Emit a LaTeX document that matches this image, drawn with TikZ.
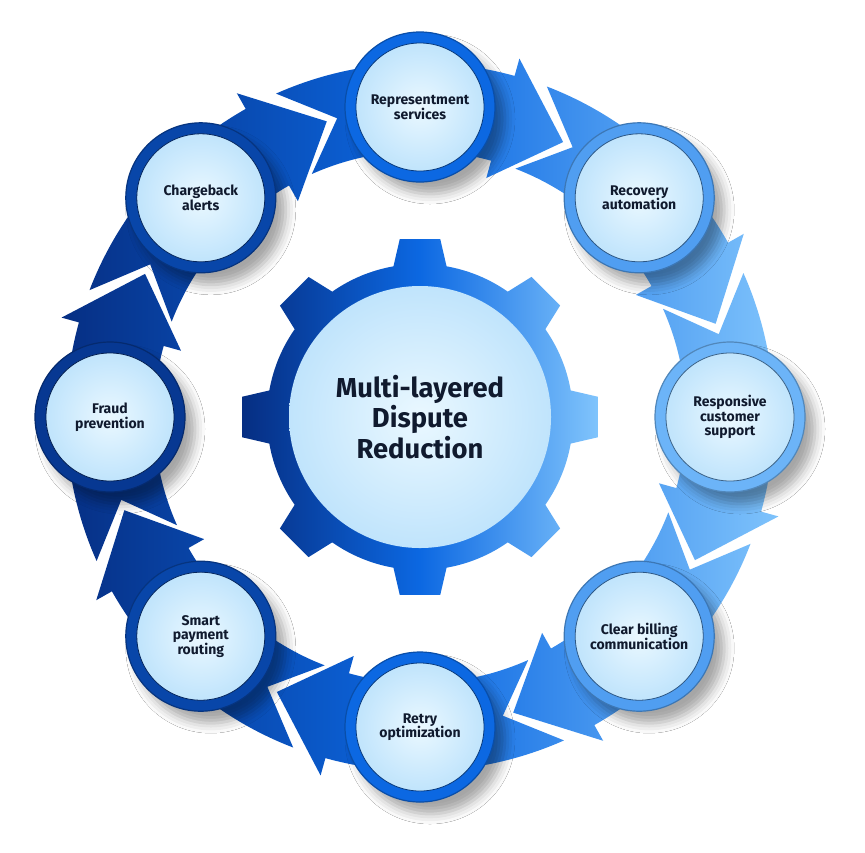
\documentclass[tikz,border=0pt]{standalone}
\usepackage{fontspec}
\setmainfont{Fira Sans}
\usepackage{tikz}
\usetikzlibrary{shadows.blur}

\definecolor{ringL}{RGB}{6,46,130}
\definecolor{ringM}{RGB}{12,104,226}
\definecolor{ringR}{RGB}{128,196,252}
\definecolor{discIn}{RGB}{234,248,255}
\definecolor{discOut}{RGB}{192,228,252}
\definecolor{labelInk}{RGB}{16,26,46}

\tikzset{
  ringshade/.style={left color=ringL, right color=ringR, middle color=ringM},
  stepring/.style={circle, minimum size=75pt, inner sep=0pt, fill=#1, draw=#1!75!black, line width=0.6pt,
    blur shadow={shadow xshift=5pt, shadow yshift=-6pt, shadow blur radius=5pt, shadow opacity=35}},
  stepdisc/.style={circle, minimum size=64pt, inner sep=0pt, inner color=discIn, outer color=discOut,
    draw=#1!55!black, line width=0.4pt, align=center, text=labelInk,
    font=\fontsize{7}{7.3}\selectfont\bfseries},
  hubdisc/.style={circle, minimum size=131pt, inner sep=0pt, inner color=discIn, outer color=discOut,
    align=center, text=labelInk, font=\fontsize{13.7}{13.6}\selectfont\bfseries},
}

\begin{document}
\begin{tikzpicture}[x=0.5pt,y=0.5pt,yscale=-1,xscale=1]
\fill[white] (0,0) rectangle (865,852);
\useasboundingbox (0,0) rectangle (865,852);

\begin{scope}[shift={(420,417)},yscale=-1]
% Ring of arrow segments
\path[ringshade]
  (114:354) arc[start angle=114, end angle=74.5, radius=354] -- (74.5:372) -- (62.5:310) -- (74.5:248) -- (74.5:266) arc[start angle=74.5, end angle=114, radius=266] -- (105.5:310) -- cycle
  (69:354) arc[start angle=69, end angle=29.5, radius=354] -- (29.5:372) -- (17.5:310) -- (29.5:248) -- (29.5:266) arc[start angle=29.5, end angle=69, radius=266] -- (60.5:310) -- cycle
  (24:354) arc[start angle=24, end angle=-15.5, radius=354] -- (-15.5:372) -- (-27.5:310) -- (-15.5:248) -- (-15.5:266) arc[start angle=-15.5, end angle=24, radius=266] -- (15.5:310) -- cycle
  (-21:354) arc[start angle=-21, end angle=-60.5, radius=354] -- (-60.5:372) -- (-72.5:310) -- (-60.5:248) -- (-60.5:266) arc[start angle=-60.5, end angle=-21, radius=266] -- (-29.5:310) -- cycle
  (-66:354) arc[start angle=-66, end angle=-105.5, radius=354] -- (-105.5:372) -- (-117.5:310) -- (-105.5:248) -- (-105.5:266) arc[start angle=-105.5, end angle=-66, radius=266] -- (-74.5:310) -- cycle
  (-111:354) arc[start angle=-111, end angle=-150.5, radius=354] -- (-150.5:372) -- (-162.5:310) -- (-150.5:248) -- (-150.5:266) arc[start angle=-150.5, end angle=-111, radius=266] -- (-119.5:310) -- cycle
  (-156:354) arc[start angle=-156, end angle=-195.5, radius=354] -- (-195.5:372) -- (-207.5:310) -- (-195.5:248) -- (-195.5:266) arc[start angle=-195.5, end angle=-156, radius=266] -- (-164.5:310) -- cycle
  (-201:354) arc[start angle=-201, end angle=-240.5, radius=354] -- (-240.5:372) -- (-252.5:310) -- (-240.5:248) -- (-240.5:266) arc[start angle=-240.5, end angle=-201, radius=266] -- (-209.5:310) -- cycle ;

% Gear
\path[ringshade] (-10:153)
  -- (-6.5:179) -- (6.5:179) -- (10:153) arc[start angle=10, end angle=35, radius=153]
  -- (38.5:179) -- (51.5:179) -- (55:153) arc[start angle=55, end angle=80, radius=153]
  -- (83.5:179) -- (96.5:179) -- (100:153) arc[start angle=100, end angle=125, radius=153]
  -- (128.5:179) -- (141.5:179) -- (145:153) arc[start angle=145, end angle=170, radius=153]
  -- (173.5:179) -- (186.5:179) -- (190:153) arc[start angle=190, end angle=215, radius=153]
  -- (218.5:179) -- (231.5:179) -- (235:153) arc[start angle=235, end angle=260, radius=153]
  -- (263.5:179) -- (276.5:179) -- (280:153) arc[start angle=280, end angle=305, radius=153]
  -- (308.5:179) -- (321.5:179) -- (325:153) arc[start angle=325, end angle=350, radius=153]
  -- cycle ;

% Text Node
\node[hubdisc] (hub) at (0,0) {Multi-layered\\Dispute\\Reduction};

% Step circles
\node[stepring=ringM] (rep-o) at (90:310) {};
\node[stepdisc=ringM] (rep) at (rep-o) {Representment\\services};
\node[stepring=ringR!59!ringM] (rec-o) at (45:310) {};
\node[stepdisc=ringR!59!ringM] (rec) at (rec-o) {Recovery\\automation};
\node[stepring=ringR!83!ringM] (resp-o) at (0:310) {};
\node[stepdisc=ringR!83!ringM] (resp) at (resp-o) {Responsive\\customer\\support};
\node[stepring=ringR!59!ringM] (bill-o) at (-45:310) {};
\node[stepdisc=ringR!59!ringM] (bill) at (bill-o) {Clear billing\\communication};
\node[stepring=ringM] (retry-o) at (-90:310) {};
\node[stepdisc=ringM] (retry) at (retry-o) {Retry\\optimization};
\node[stepring=ringM!41!ringL] (route-o) at (-135:310) {};
\node[stepdisc=ringM!41!ringL] (route) at (route-o) {Smart\\payment\\routing};
\node[stepring=ringM!17!ringL] (fraud-o) at (180:310) {};
\node[stepdisc=ringM!17!ringL] (fraud) at (fraud-o) {Fraud\\prevention};
\node[stepring=ringM!41!ringL] (alert-o) at (135:310) {};
\node[stepdisc=ringM!41!ringL] (alert) at (alert-o) {Chargeback\\alerts};
\end{scope}
\end{tikzpicture}
\end{document}
